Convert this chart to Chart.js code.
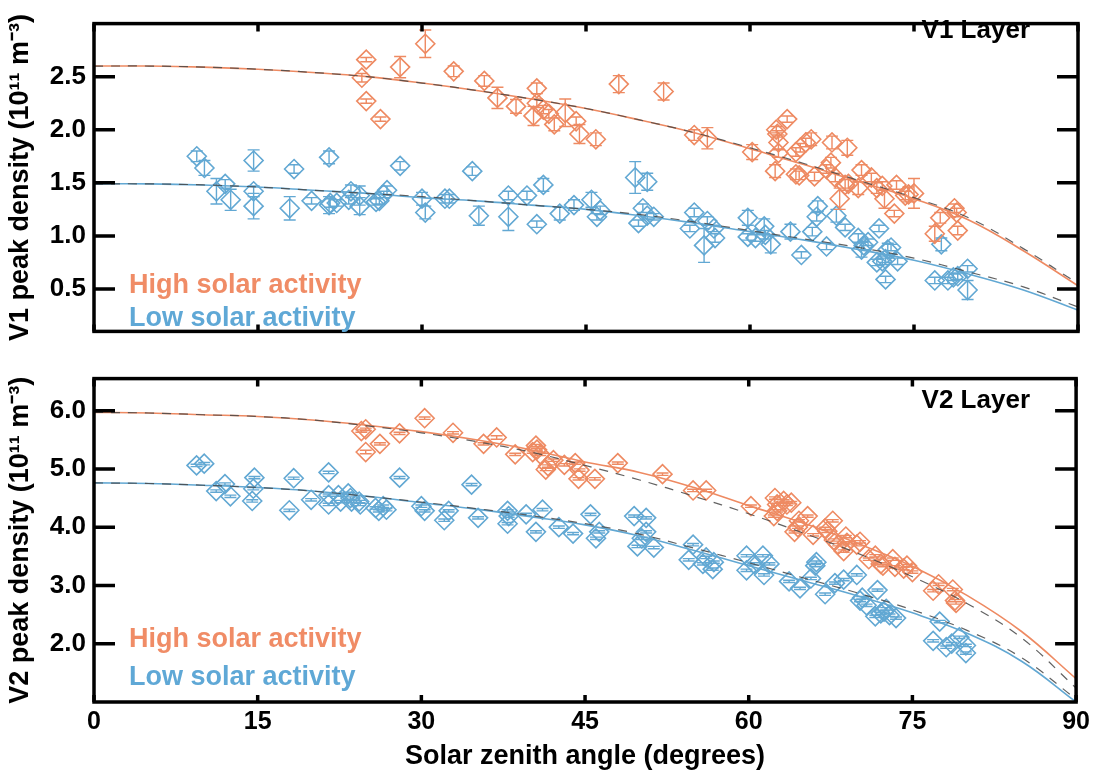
<!DOCTYPE html>
<html>
<head>
<meta charset="utf-8">
<script src="https://cdn.jsdelivr.net/npm/chart.js@4.4.1/dist/chart.umd.min.js"></script>
<style>
  html, body { margin: 0; padding: 0; background: #fff; }
  #wrap { position: relative; width: 1095px; height: 779px; }
  .panel { position: absolute; left: 0; width: 1095px; }
  #p1 { top: 0; height: 355px; }
  #p2 { top: 355px; height: 424px; }
</style>
</head>
<body>
<div id="wrap">
  <div class="panel" id="p1"><canvas id="v1Chart"></canvas></div>
  <div class="panel" id="p2"><canvas id="v2Chart"></canvas></div>
</div>
<script>
// tick values
const xTicks = [0, 15, 30, 45, 60, 75, 90];
const v1Ticks = [0.5, 1.0, 1.5, 2.0, 2.5];
const v2Ticks = [2.0, 3.0, 4.0, 5.0, 6.0];

// fitted curves, read every 5 degrees
const fitAngles = [0, 5, 10, 15, 20, 25, 30, 35, 40, 45, 50, 55, 60, 65, 70, 75, 80, 85, 90];
const v1HighFit  = [2.60, 2.60, 2.59, 2.57, 2.54, 2.50, 2.44, 2.37, 2.29, 2.20, 2.09, 1.97, 1.82, 1.67, 1.51, 1.35, 1.15, 0.86, 0.53];
const v1HighDash = [2.60, 2.60, 2.59, 2.57, 2.54, 2.50, 2.44, 2.37, 2.29, 2.20, 2.09, 1.97, 1.83, 1.68, 1.52, 1.36, 1.17, 0.88, 0.55];
const v1LowFit   = [1.49, 1.49, 1.48, 1.46, 1.43, 1.40, 1.36, 1.33, 1.29, 1.25, 1.19, 1.12, 1.04, 0.96, 0.87, 0.77, 0.64, 0.49, 0.30];
const v1LowDash  = [1.49, 1.49, 1.48, 1.46, 1.43, 1.40, 1.37, 1.33, 1.29, 1.25, 1.20, 1.13, 1.05, 0.97, 0.89, 0.79, 0.66, 0.52, 0.33];
const v2HighFit  = [5.97, 5.96, 5.93, 5.90, 5.84, 5.75, 5.64, 5.50, 5.33, 5.12, 4.94, 4.68, 4.37, 4.07, 3.72, 3.33, 2.83, 2.21, 1.40];
const v2HighDash = [5.97, 5.96, 5.93, 5.90, 5.84, 5.74, 5.62, 5.47, 5.29, 5.06, 4.81, 4.53, 4.23, 3.90, 3.55, 3.15, 2.69, 2.10, 1.24];
const v2LowFit   = [4.76, 4.75, 4.72, 4.68, 4.62, 4.53, 4.42, 4.31, 4.18, 4.04, 3.85, 3.60, 3.34, 3.08, 2.82, 2.53, 2.18, 1.70, 1.00];
const v2LowDash  = [4.76, 4.75, 4.72, 4.68, 4.62, 4.53, 4.43, 4.32, 4.20, 4.06, 3.88, 3.64, 3.39, 3.13, 2.87, 2.58, 2.23, 1.76, 1.05];

// observations: [solar zenith angle, peak density, error]
const v1High = [
  [24.5, 2.49, 0.04], [24.9, 2.66, 0.02], [24.9, 2.27, 0.02], [26.2, 2.10, 0.02], [28.0, 2.59, 0.10],
  [30.3, 2.81, 0.13], [32.9, 2.55, 0.05], [35.7, 2.46, 0.05], [36.9, 2.30, 0.10], [38.6, 2.22, 0.065],
  [40.5, 2.39, 0.05], [40.2, 2.13, 0.09], [40.5, 2.25, 0.04], [41.1, 2.19, 0.04], [41.6, 2.15, 0.04],
  [42.1, 2.05, 0.06], [43.1, 2.16, 0.13], [44.1, 2.08, 0.04], [44.4, 1.96, 0.09], [45.9, 1.91, 0.06],
  [48.0, 2.43, 0.08], [52.1, 2.36, 0.08], [54.9, 1.95, 0.05], [56.1, 1.92, 0.10], [60.2, 1.79, 0.07],
  [62.3, 1.61, 0.06], [62.4, 2.00, 0.03], [62.5, 1.96, 0.03], [62.6, 1.88, 0.07], [62.6, 1.78, 0.04],
  [63.4, 2.10, 0.03], [64.2, 1.79, 0.04], [64.2, 1.58, 0.05], [64.5, 1.57, 0.04], [64.6, 1.83, 0.04],
  [65.1, 1.88, 0.04], [65.6, 1.91, 0.06], [65.9, 1.56, 0.04], [67.0, 1.63, 0.04], [67.5, 1.88, 0.06],
  [67.4, 1.69, 0.05], [67.8, 1.55, 0.04], [68.2, 1.35, 0.10], [68.7, 1.48, 0.05], [68.9, 1.83, 0.07],
  [69.0, 1.49, 0.04], [69.9, 1.45, 0.06], [70.2, 1.62, 0.05], [71.1, 1.55, 0.04], [71.6, 1.45, 0.05],
  [72.1, 1.47, 0.04], [72.3, 1.35, 0.09], [73.2, 1.21, 0.03], [73.4, 1.48, 0.04], [74.2, 1.38, 0.04],
  [74.5, 1.39, 0.07], [75.0, 1.40, 0.14], [76.9, 1.02, 0.07], [77.4, 1.17, 0.05], [78.7, 1.26, 0.04],
  [78.9, 1.22, 0.04], [79.0, 1.05, 0.04]
];
const v1Low = [
  [9.4, 1.75, 0.05], [10.1, 1.64, 0.07], [11.2, 1.42, 0.12], [12.0, 1.49, 0.04], [12.5, 1.34, 0.10],
  [14.6, 1.71, 0.10], [14.6, 1.42, 0.05], [14.6, 1.28, 0.12], [17.9, 1.26, 0.11], [18.3, 1.63, 0.04],
  [19.9, 1.33, 0.03], [21.5, 1.74, 0.06], [21.5, 1.29, 0.08], [21.6, 1.31, 0.04], [22.2, 1.31, 0.03],
  [23.3, 1.34, 0.04], [23.5, 1.42, 0.06], [24.3, 1.38, 0.09], [24.3, 1.28, 0.08], [25.8, 1.32, 0.03],
  [26.1, 1.33, 0.03], [26.5, 1.39, 0.03], [26.8, 1.43, 0.04], [28.0, 1.66, 0.04], [30.0, 1.35, 0.06],
  [30.3, 1.22, 0.06], [32.1, 1.35, 0.04], [32.5, 1.35, 0.04], [34.6, 1.61, 0.04], [35.2, 1.19, 0.09],
  [37.9, 1.38, 0.04], [37.9, 1.18, 0.13], [39.6, 1.38, 0.04], [40.5, 1.11, 0.03], [41.1, 1.48, 0.06],
  [42.6, 1.21, 0.06], [43.9, 1.29, 0.05], [45.5, 1.34, 0.07], [46.0, 1.18, 0.03], [46.3, 1.24, 0.04],
  [49.5, 1.55, 0.15], [50.6, 1.51, 0.08], [49.8, 1.12, 0.03], [50.2, 1.26, 0.04], [50.6, 1.19, 0.03],
  [51.2, 1.18, 0.03], [54.5, 1.07, 0.03], [54.9, 1.22, 0.04], [55.8, 0.91, 0.16], [56.1, 1.14, 0.04],
  [56.7, 1.07, 0.03], [56.8, 0.98, 0.04], [59.8, 1.17, 0.07], [59.8, 0.99, 0.03], [60.5, 0.98, 0.03],
  [61.3, 1.09, 0.07], [61.4, 1.01, 0.04], [61.9, 0.92, 0.08], [63.7, 1.04, 0.07], [64.7, 0.82, 0.03],
  [65.7, 1.04, 0.04], [66.2, 1.28, 0.05], [66.1, 1.18, 0.04], [67.0, 0.90, 0.03], [67.9, 1.19, 0.06],
  [68.7, 1.08, 0.03], [69.9, 0.98, 0.04], [70.2, 0.87, 0.07], [70.4, 0.91, 0.04], [70.8, 0.94, 0.03],
  [71.8, 1.07, 0.03], [71.6, 0.75, 0.03], [72.1, 0.76, 0.03], [72.4, 0.78, 0.03], [72.6, 0.87, 0.06],
  [72.9, 0.89, 0.03], [72.4, 0.59, 0.03], [73.5, 0.76, 0.03], [76.9, 0.58, 0.03], [77.5, 0.92, 0.06],
  [78.1, 0.58, 0.03], [78.6, 0.61, 0.03], [79.0, 0.62, 0.03], [79.9, 0.69, 0.03], [79.9, 0.49, 0.09]
];
const v2High = [
  [24.5, 5.65, 0.02], [24.9, 5.68, 0.02], [24.9, 5.29, 0.03], [26.2, 5.43, 0.02], [28.0, 5.61, 0.02],
  [30.3, 5.87, 0.02], [32.9, 5.62, 0.02], [35.7, 5.43, 0.02], [36.9, 5.54, 0.03], [38.6, 5.25, 0.02],
  [40.2, 5.29, 0.02], [40.5, 5.40, 0.02], [40.6, 5.33, 0.02], [40.9, 5.25, 0.02], [41.4, 4.99, 0.02],
  [41.6, 5.05, 0.02], [42.1, 5.15, 0.02], [43.1, 5.07, 0.02], [44.1, 5.10, 0.02], [44.4, 4.83, 0.02],
  [44.5, 4.98, 0.02], [45.9, 4.83, 0.02], [48.0, 5.10, 0.02], [52.1, 4.91, 0.02], [54.9, 4.63, 0.02],
  [56.1, 4.63, 0.02], [60.2, 4.36, 0.02], [62.3, 4.19, 0.02], [62.4, 4.50, 0.02], [62.6, 4.39, 0.02],
  [62.6, 4.28, 0.02], [63.2, 4.45, 0.02], [63.5, 4.39, 0.02], [63.9, 4.42, 0.02], [64.2, 3.92, 0.02],
  [64.5, 4.00, 0.02], [64.6, 4.11, 0.02], [65.4, 4.19, 0.02], [65.9, 3.87, 0.02], [67.0, 3.98, 0.02],
  [67.7, 4.11, 0.02], [67.2, 3.93, 0.02], [67.8, 3.78, 0.02], [68.2, 3.70, 0.02], [68.7, 3.59, 0.02],
  [68.9, 3.84, 0.02], [69.0, 3.73, 0.02], [69.9, 3.70, 0.02], [70.2, 3.75, 0.02], [71.0, 3.45, 0.02],
  [71.6, 3.51, 0.02], [72.1, 3.37, 0.02], [72.3, 3.34, 0.02], [73.2, 3.45, 0.02], [73.4, 3.32, 0.02],
  [74.2, 3.29, 0.02], [74.5, 3.34, 0.02], [75.0, 3.23, 0.02], [76.9, 2.91, 0.02], [77.4, 3.02, 0.02],
  [78.7, 2.93, 0.02], [78.9, 2.74, 0.02], [79.0, 2.70, 0.02]
];
const v2Low = [
  [9.4, 5.06, 0.02], [10.1, 5.09, 0.02], [11.2, 4.62, 0.02], [12.0, 4.74, 0.02], [12.5, 4.53, 0.02],
  [14.7, 4.85, 0.02], [14.6, 4.66, 0.02], [14.5, 4.45, 0.02], [17.9, 4.29, 0.02], [18.3, 4.84, 0.02],
  [19.9, 4.47, 0.02], [21.5, 4.94, 0.02], [21.5, 4.55, 0.02], [21.5, 4.39, 0.02], [22.4, 4.55, 0.02],
  [22.6, 4.44, 0.02], [23.3, 4.58, 0.02], [23.5, 4.50, 0.02], [23.6, 4.44, 0.02], [24.3, 4.44, 0.02],
  [24.4, 4.39, 0.02], [25.8, 4.33, 0.02], [26.1, 4.28, 0.02], [26.5, 4.36, 0.02], [26.8, 4.30, 0.02],
  [28.0, 4.85, 0.02], [30.0, 4.36, 0.02], [30.3, 4.28, 0.02], [32.1, 4.12, 0.02], [32.5, 4.28, 0.02],
  [34.6, 4.73, 0.02], [35.2, 4.16, 0.02], [37.9, 4.28, 0.02], [38.0, 4.19, 0.02], [37.9, 4.06, 0.02],
  [39.6, 4.22, 0.02], [40.5, 3.92, 0.02], [41.1, 4.30, 0.02], [42.6, 4.00, 0.02], [43.9, 3.89, 0.02],
  [45.5, 4.22, 0.02], [46.0, 3.81, 0.02], [46.3, 3.92, 0.02], [49.5, 4.19, 0.02], [50.6, 4.16, 0.02],
  [49.8, 3.67, 0.02], [50.2, 3.81, 0.02], [50.6, 3.92, 0.02], [51.3, 3.65, 0.02], [54.5, 3.44, 0.02],
  [54.9, 3.70, 0.02], [55.8, 3.37, 0.02], [56.1, 3.48, 0.02], [56.7, 3.28, 0.02], [56.8, 3.40, 0.02],
  [59.8, 3.51, 0.02], [59.8, 3.26, 0.02], [60.5, 3.37, 0.02], [61.3, 3.51, 0.02], [61.4, 3.18, 0.02],
  [61.9, 3.37, 0.02], [63.7, 3.07, 0.02], [64.7, 2.95, 0.02], [65.7, 3.12, 0.02], [66.2, 3.40, 0.02],
  [66.1, 3.34, 0.02], [67.0, 2.85, 0.02], [67.9, 3.04, 0.02], [68.7, 3.10, 0.02], [69.9, 3.18, 0.02],
  [70.2, 2.74, 0.02], [70.4, 2.79, 0.02], [70.8, 2.66, 0.02], [71.8, 2.92, 0.02], [71.6, 2.47, 0.02],
  [72.1, 2.52, 0.02], [72.4, 2.55, 0.02], [72.6, 2.60, 0.02], [72.9, 2.49, 0.02], [73.5, 2.44, 0.02],
  [76.9, 2.05, 0.02], [77.5, 2.38, 0.02], [78.1, 1.94, 0.02], [78.6, 2.00, 0.02], [79.3, 2.11, 0.02],
  [79.9, 1.97, 0.02], [79.9, 1.84, 0.02]
];

const ORANGE = '#EE8A62';
const BLUE = '#62A8D3';
const FONT = '"Liberation Sans", Arial, sans-serif';

// vertical error bars with caps, drawn through the y scale
const errorBars = {
  id: 'errorBars',
  afterDatasetDraw(chart, args) {
    const ds = chart.data.datasets[args.index];
    if (!ds.errors) return;
    const yScale = chart.scales.y;
    const ctx = chart.ctx;
    ctx.save();
    ctx.strokeStyle = ds.borderColor;
    ctx.lineWidth = 1.4;
    ctx.beginPath();
    args.meta.data.forEach((pt, i) => {
      const v = ds.data[i].y, e = ds.errors[i];
      const yt = yScale.getPixelForValue(v + e);
      const yb = yScale.getPixelForValue(v - e);
      ctx.moveTo(pt.x, yt); ctx.lineTo(pt.x, yb);
      ctx.moveTo(pt.x - 6, yt); ctx.lineTo(pt.x + 6, yt);
      ctx.moveTo(pt.x - 6, yb); ctx.lineTo(pt.x + 6, yb);
    });
    ctx.stroke();
    ctx.restore();
  }
};

// thick box with inward ticks on all four sides
const frame = {
  id: 'frame',
  afterDraw(chart, args, opts) {
    const { ctx, chartArea: a, scales } = chart;
    ctx.save();
    ctx.strokeStyle = '#000';
    ctx.lineWidth = 3.5;
    ctx.strokeRect(a.left, a.top, a.right - a.left, a.bottom - a.top);
    ctx.beginPath();
    xTicks.forEach(v => {
      const px = scales.x.getPixelForValue(v);
      ctx.moveTo(px, a.top); ctx.lineTo(px, a.top + 8);
      ctx.moveTo(px, a.bottom); ctx.lineTo(px, a.bottom - 7);
    });
    opts.yTicks.forEach(v => {
      const py = scales.y.getPixelForValue(v);
      ctx.moveTo(a.left, py); ctx.lineTo(a.left + 21, py);
      ctx.moveTo(a.right, py); ctx.lineTo(a.right - 21, py);
    });
    ctx.stroke();
    ctx.restore();
  }
};

// in-panel texts
const panelText = {
  id: 'panelText',
  afterDraw(chart, args, opts) {
    const ctx = chart.ctx;
    ctx.save();
    ctx.textBaseline = 'alphabetic';
    (opts.items || []).forEach(t => {
      ctx.font = t.font;
      ctx.fillStyle = t.color;
      ctx.textAlign = t.align;
      ctx.fillText(t.text, t.x, t.y);
    });
    ctx.restore();
  }
};

function toPoints(rows) { return rows.map(r => ({ x: r[0], y: r[1] })); }
function toCurve(ys) { return fitAngles.map((x, i) => ({ x: x, y: ys[i] })); }

function curve(ys, color, dashed) {
  return {
    type: 'line',
    data: toCurve(ys),
    borderColor: dashed ? 'rgba(70,70,70,0.85)' : color,
    borderWidth: dashed ? 1.2 : 1.6,
    borderDash: dashed ? [9, 8] : [],
    pointRadius: 0,
    fill: false,
    tension: 0.4
  };
}

function points(rows, color) {
  return {
    type: 'scatter',
    data: toPoints(rows),
    errors: rows.map(r => r[2]),
    borderColor: color,
    backgroundColor: 'rgba(0,0,0,0)',
    pointStyle: 'rectRot',
    pointRadius: 9.5,
    borderWidth: 1.6,
    showLine: false
  };
}

function makePanel(canvasId, opt) {
  return new Chart(document.getElementById(canvasId), {
    type: 'scatter',
    data: {
      datasets: [
        curve(opt.highDash, ORANGE, true),
        curve(opt.lowDash, BLUE, true),
        curve(opt.highFit, ORANGE, false),
        curve(opt.lowFit, BLUE, false),
        points(opt.high, ORANGE),
        points(opt.low, BLUE)
      ]
    },
    options: {
      responsive: true,
      maintainAspectRatio: false,
      animation: false,
      layout: { padding: opt.padding },
      scales: {
        x: {
          type: 'linear', min: 0, max: 90,
          display: opt.showX,
          afterBuildTicks: s => { s.ticks = xTicks.map(v => ({ value: v })); },
          afterFit: s => { if (opt.showX) s.height = 77; },
          grid: { display: false, drawTicks: false },
          border: { display: false },
          ticks: {
            autoSkip: false, maxRotation: 0, padding: 5, color: '#000',
            font: { family: FONT, size: 25, weight: 'bold' }
          },
          title: {
            display: true, text: 'Solar zenith angle (degrees)', color: '#000',
            font: { family: FONT, size: 27, weight: 'bold' },
            padding: { top: 0, bottom: 6 }
          }
        },
        y: {
          min: opt.yMin, max: opt.yMax,
          afterBuildTicks: s => { s.ticks = opt.yTicks.map(v => ({ value: v })); },
          afterFit: s => { s.width = 94; },
          grid: { display: false, drawTicks: false },
          border: { display: false },
          ticks: {
            padding: 8, color: '#000',
            font: { family: FONT, size: 26, weight: 'bold' },
            callback: v => Number(v).toFixed(1)
          },
          title: {
            display: true, text: opt.yTitle, color: '#000',
            font: { family: FONT, size: 27, weight: 'bold' },
            padding: { top: 4, bottom: 0 }
          }
        }
      },
      plugins: {
        legend: { display: false },
        tooltip: { enabled: false },
        frame: { yTicks: opt.yTicks },
        panelText: { items: opt.texts }
      }
    },
    plugins: [errorBars, frame, panelText]
  });
}

makePanel('v1Chart', {
  high: v1High, low: v1Low,
  highFit: v1HighFit, highDash: v1HighDash, lowFit: v1LowFit, lowDash: v1LowDash,
  yMin: 0.1, yMax: 3.0, yTicks: v1Ticks,
  yTitle: 'V1 peak density (10\u00B9\u00B9 m\u207B\u00B3)',
  showX: false,
  padding: { top: 4, right: 17, bottom: 14, left: 0 },
  texts: [
    { text: 'V1 Layer', x: 1030, y: 38, align: 'right', color: '#000', font: 'bold 26px ' + FONT },
    { text: 'High solar activity', x: 129, y: 293, align: 'left', color: '#F08C66', font: 'bold 27px ' + FONT },
    { text: 'Low solar activity', x: 129, y: 326, align: 'left', color: '#5FA8D6', font: 'bold 27px ' + FONT }
  ]
});

makePanel('v2Chart', {
  high: v2High, low: v2Low,
  highFit: v2HighFit, highDash: v2HighDash, lowFit: v2LowFit, lowDash: v2LowDash,
  yMin: 1.0, yMax: 6.55, yTicks: v2Ticks,
  yTitle: 'V2 peak density (10\u00B9\u00B9 m\u207B\u00B3)',
  showX: true,
  padding: { top: 9, right: 17, bottom: 0, left: 0 },
  texts: [
    { text: 'V2 Layer', x: 1030, y: 53, align: 'right', color: '#000', font: 'bold 26px ' + FONT },
    { text: 'High solar activity', x: 129, y: 292, align: 'left', color: '#F08C66', font: 'bold 27px ' + FONT },
    { text: 'Low solar activity', x: 129, y: 330, align: 'left', color: '#5FA8D6', font: 'bold 27px ' + FONT }
  ]
});
</script>
</body>
</html>
